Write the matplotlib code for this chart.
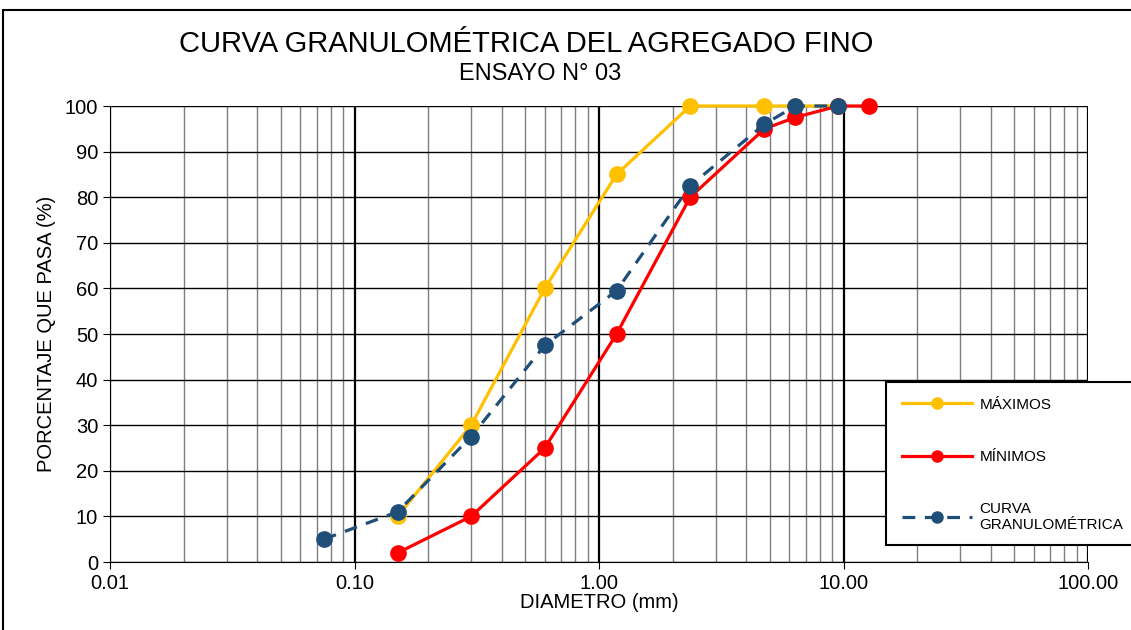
import matplotlib
matplotlib.use("Agg")
import matplotlib.pyplot as plt
from matplotlib.patches import Rectangle
from matplotlib.ticker import FixedLocator, NullFormatter

plt.rcParams['font.family'] = ['Liberation Sans', 'DejaVu Sans']

# Sieve openings (mm) and percent passing
max_x = [0.15, 0.3, 0.6, 1.18, 2.36, 4.75, 6.35, 9.5]
max_y = [10, 30, 60, 85, 100, 100, 100, 100]

min_x = [0.15, 0.3, 0.6, 1.18, 2.36, 4.75, 6.35, 9.5, 12.7]
min_y = [2, 10, 25, 50, 80, 95, 97.5, 100, 100]

curva_x = [0.075, 0.15, 0.3, 0.6, 1.18, 2.36, 4.75, 6.35, 9.5]
curva_y = [5, 11, 27.5, 47.5, 59.5, 82.5, 96, 100, 100]

x_ticks = [0.01, 0.1, 1, 10, 100]
x_tick_labels = ["0.01", "0.10", "1.00", "10.00", "100.00"]
y_ticks = list(range(0, 101, 10))


def main():
    W, H = 1131, 630
    fig = plt.figure(figsize=(W / 100, H / 100), dpi=100)
    ax = fig.add_axes([110 / W, 1 - 562 / H, (1088 - 110) / W, (562 - 106) / H])

    # outer chart border
    fig.patches.append(Rectangle((3 / W, -0.02), 1.02, 1 - 10 / H + 0.02,
                                 transform=fig.transFigure, fill=False,
                                 edgecolor='black', linewidth=1.5))

    ax.set_xscale('log')
    ax.set_xlim(0.01, 100)
    ax.set_ylim(0, 100)

    minors = [m * 10.0 ** e for e in range(-2, 2) for m in range(2, 10)]
    ax.xaxis.set_major_locator(FixedLocator(x_ticks))
    ax.xaxis.set_minor_locator(FixedLocator(minors))
    ax.xaxis.set_minor_formatter(NullFormatter())
    ax.set_xticklabels(x_tick_labels)
    ax.set_yticks(y_ticks)

    ax.grid(which='major', axis='x', color='black', linewidth=1.6)
    ax.grid(which='minor', axis='x', color='#7f7f7f', linewidth=1.0)
    ax.grid(which='major', axis='y', color='black', linewidth=1.0)
    ax.set_axisbelow(True)

    for s in ['top', 'right']:
        ax.spines[s].set_visible(False)
    ax.tick_params(which='major', length=5, labelsize=14.5)
    ax.tick_params(which='minor', length=0)

    ax.plot(max_x, max_y, color='#FFC000', linewidth=2.3, marker='o',
            markersize=11, label='MÁXIMOS', clip_on=False)
    ax.plot(min_x, min_y, color='#FF0000', linewidth=2.3, marker='o',
            markersize=11, label='MÍNIMOS', clip_on=False)
    ax.plot(curva_x, curva_y, color='#1F4E79', linewidth=2.3, marker='o',
            markersize=11, linestyle=(0, (4, 3)), label='CURVA\nGRANULOMÉTRICA',
            clip_on=False)

    ax.set_xlabel('DIAMETRO (mm)', fontsize=14.5, labelpad=0)
    ax.set_ylabel('PORCENTAJE QUE PASA (%)', fontsize=14.5, labelpad=6)

    fig.text(526 / W, 1 - 44 / H, 'CURVA GRANULOMÉTRICA DEL AGREGADO FINO',
             ha='center', va='center', fontsize=21)
    fig.text(540 / W, 1 - 74 / H, 'ENSAYO N° 03', ha='center', va='center',
             fontsize=17)

    # legend box
    fig.patches.append(Rectangle((886 / W, 1 - 545 / H), 0.25, (545 - 382) / H,
                                 transform=fig.transFigure, facecolor='white',
                                 edgecolor='black', linewidth=1.5, zorder=5))
    leg = fig.legend(loc='upper left', bbox_to_anchor=(888 / W, 1 - 384 / H),
                     frameon=False, fontsize=11, handlelength=4.6,
                     labelspacing=2.5, handletextpad=0.5)
    leg.set_zorder(6)
    for h in leg.legend_handles:
        h.set_markersize(8)

    fig.savefig('out.png', dpi=100)


if __name__ == '__main__':
    main()
